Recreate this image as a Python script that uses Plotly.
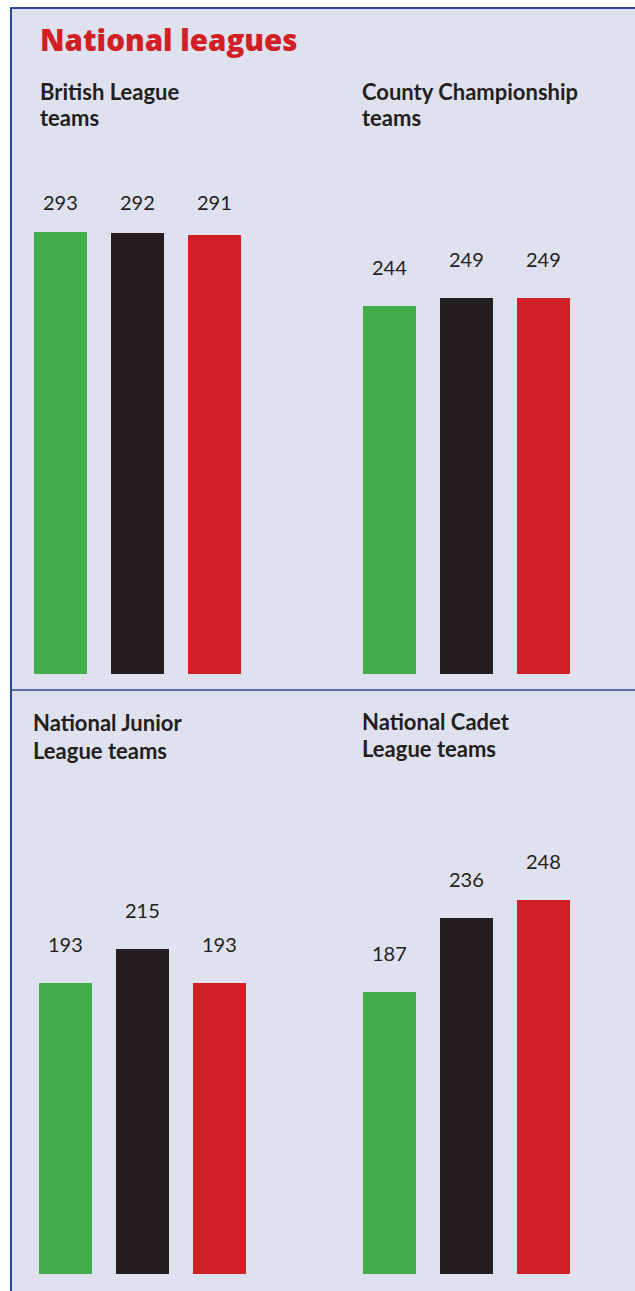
import plotly.graph_objects as go

W, H = 635, 1291

panel_titles = [["British League", "teams"], ["County Championship", "teams"],
                ["National Junior", "League teams"], ["National Cadet", "League teams"]]
categories = ["A", "B", "C"]
british_league = [293, 292, 291]
county_championship = [244, 249, 249]
national_junior = [193, 215, 193]
national_cadet = [187, 236, 248]
series = [british_league, county_championship, national_junior, national_cadet]
bar_colors = ["#41ae4b", "#231f20", "#d11f26"]

BG = "#dfe1ee"
BLUE = "#2d4a9a"
RED = "#d21f26"
TXT = "#231f20"

def px_x(p):
    return p / W

def px_y(p):
    return 1 - p / H

# panel geometry in window pixels: (x left, x right, bar baseline y, title x, title line centres)
panels = [
    (22, 253, 674, 38, (91, 117)),
    (350.5, 581.5, 674, 360, (91, 117)),
    (26.5, 257.5, 1274, 31, (722, 750)),
    (350.5, 581.5, 1274, 360, (721, 748)),
]
YMAX = 300
PX_PER_UNIT = 1.51

fig = go.Figure()
shapes = [
    dict(type="rect", xref="paper", yref="paper", x0=px_x(11), x1=1.05, y0=-0.05, y1=px_y(8),
         fillcolor=BG, line=dict(width=0), layer="below"),
    dict(type="line", xref="paper", yref="paper", x0=px_x(11), x1=px_x(11), y0=-0.05, y1=px_y(7),
         line=dict(color=BLUE, width=2)),
    dict(type="line", xref="paper", yref="paper", x0=px_x(10), x1=1.05, y0=px_y(8), y1=px_y(8),
         line=dict(color=BLUE, width=2)),
    dict(type="line", xref="paper", yref="paper", x0=px_x(11), x1=1.05, y0=px_y(690), y1=px_y(690),
         line=dict(color=BLUE, width=1.5)),
]
annotations = [
    dict(text="National leagues", xref="paper", yref="paper", x=px_x(38), y=px_y(39),
         xanchor="left", yanchor="middle", showarrow=False,
         font=dict(family="Open Sans", size=29.5, color=RED, weight=800)),
]

layout_axes = {}
for i, (vals, title, (xl, xr, base, tx, tys)) in enumerate(zip(series, panel_titles, panels)):
    n = i + 1
    xa = "x" if n == 1 else f"x{n}"
    ya = "y" if n == 1 else f"y{n}"
    fig.add_trace(go.Bar(x=[0, 1, 2], y=vals, marker=dict(color=bar_colors, line=dict(width=0)),
                         width=0.695, xaxis=xa, yaxis=ya, showlegend=False, hoverinfo="skip"))
    top = base - YMAX * PX_PER_UNIT
    layout_axes["xaxis" + ("" if n == 1 else str(n))] = dict(
        domain=[px_x(xl), px_x(xr)], range=[-0.5, 2.5], visible=False, anchor=ya)
    layout_axes["yaxis" + ("" if n == 1 else str(n))] = dict(
        domain=[px_y(base), px_y(top)], range=[0, YMAX], visible=False, anchor=xa)
    for j, v in enumerate(vals):
        if n == 1:
            # first panel: labels share one baseline just under the subtitle
            annotations.append(dict(text=str(v), x=j, xref=xa, y=px_y(202), yref="paper",
                                    showarrow=False, xanchor="center", yanchor="middle",
                                    font=dict(family="Lato", size=20, color=TXT)))
        else:
            annotations.append(dict(text=str(v), x=j, y=v, xref=xa, yref=ya, showarrow=False,
                                    xanchor="center", yanchor="middle", yshift=39,
                                    font=dict(family="Lato", size=20, color=TXT)))
    for line, ty in zip(title, tys):
        annotations.append(dict(text="<b>" + line + "</b>", xref="paper", yref="paper",
                                x=px_x(tx), y=px_y(ty), xanchor="left", yanchor="middle",
                                showarrow=False, font=dict(family="Lato", size=22, color=TXT)))

fig.update_layout(
    width=W, height=H, margin=dict(l=0, r=0, t=0, b=0),
    paper_bgcolor="white", plot_bgcolor="rgba(0,0,0,0)",
    shapes=shapes, annotations=annotations, bargap=0, **layout_axes,
)
fig.write_html("out.html", config={"displayModeBar": False},
               post_script="document.body.style.margin='0';document.body.style.overflow='hidden';")
